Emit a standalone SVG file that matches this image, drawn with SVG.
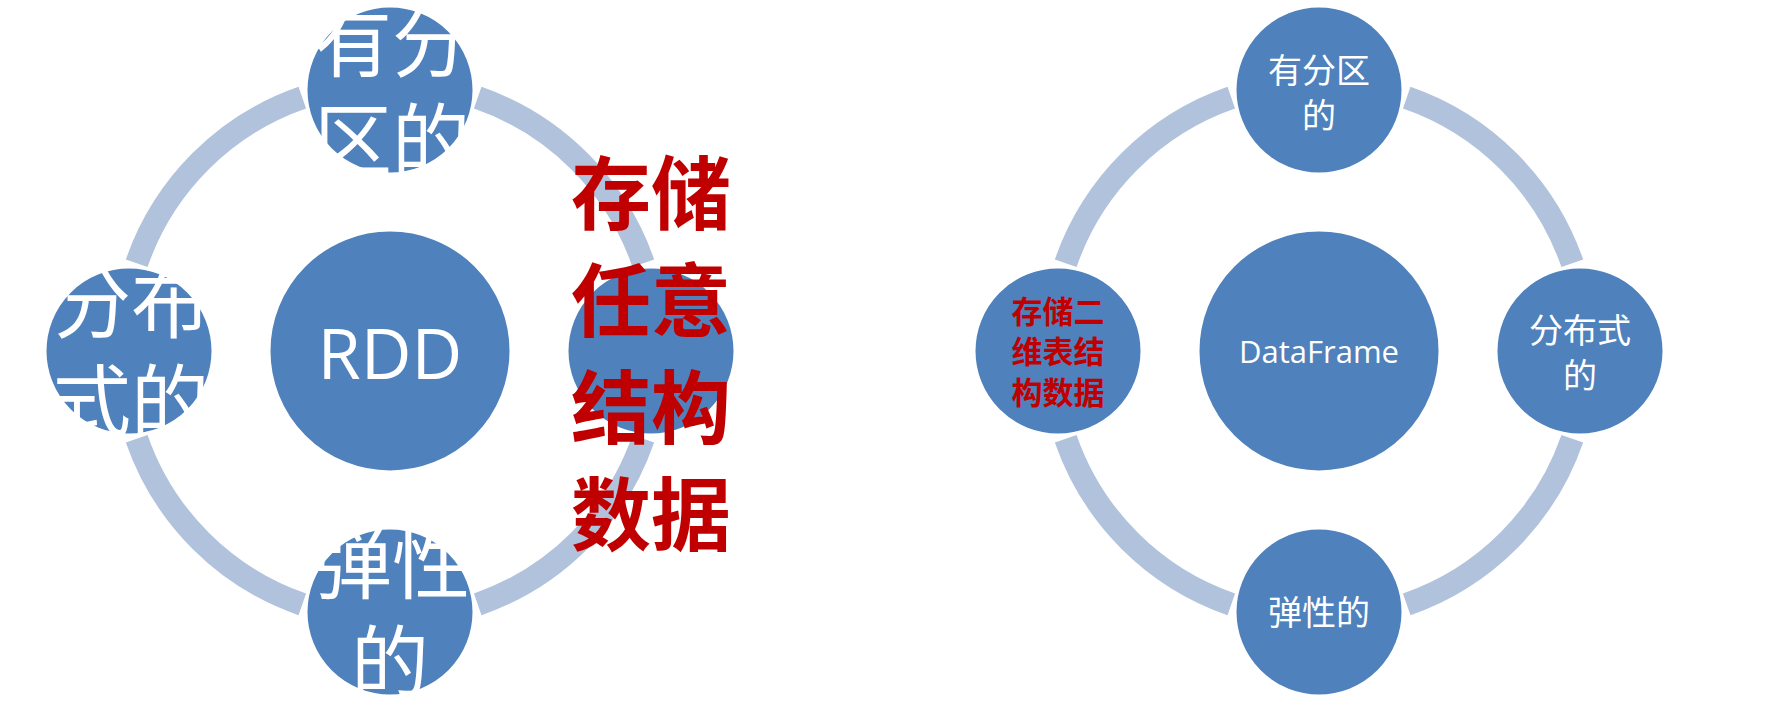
<svg xmlns="http://www.w3.org/2000/svg" width="1774" height="708" viewBox="0 0 1774 708">
<style>
.arc{fill:none;stroke:#B1C2DD;stroke-width:23;stroke-linecap:butt}
.node{fill:#4F81BD;stroke:#FFFFFF;stroke-width:3}
.big{font-family:"Noto Sans CJK SC",sans-serif;font-size:78px;fill:#FFFFFF}
.red{font-family:"Noto Sans CJK SC",sans-serif;font-weight:bold;font-size:80px;fill:#C00000;text-anchor:middle}
.sm{font-family:"Noto Sans CJK SC",sans-serif;font-size:34px;fill:#FFFFFF;text-anchor:middle}
.smred{font-family:"Noto Sans CJK SC",sans-serif;font-weight:bold;font-size:31px;fill:#C00000;text-anchor:middle}
.lat{font-family:"Open Sans",sans-serif;fill:#FFFFFF;text-anchor:middle}
</style>
<rect width="1774" height="708" fill="#FFFFFF"/>
<g id="connectors">
<path class="arc" d="M477.7,97.7 A268,268 0 0 1 643.3,263.3"/>
<path class="arc" d="M643.3,438.7 A268,268 0 0 1 477.7,604.3"/>
<path class="arc" d="M302.3,604.3 A268,268 0 0 1 136.7,438.7"/>
<path class="arc" d="M136.7,263.3 A268,268 0 0 1 302.3,97.7"/>
<path class="arc" d="M1406.7,97.7 A268,268 0 0 1 1572.3,263.3"/>
<path class="arc" d="M1572.3,438.7 A268,268 0 0 1 1406.7,604.3"/>
<path class="arc" d="M1231.3,604.3 A268,268 0 0 1 1065.7,438.7"/>
<path class="arc" d="M1065.7,263.3 A268,268 0 0 1 1231.3,97.7"/>
</g>
<g id="rdd-center">
<circle class="node" cx="390" cy="351" r="121"/>
<text class="lat" x="390" y="379" font-size="70">RDD</text>
</g>
<g id="rdd-top">
<circle class="node" cx="390" cy="90" r="84"/>
<text class="big" x="314 392" y="71">有分</text>
<text class="big" x="314 392" y="169">区的</text>
</g>
<g id="rdd-left">
<circle class="node" cx="129" cy="351" r="84"/>
<text class="big" x="53 131" y="332">分布</text>
<text class="big" x="53 131" y="430">式的</text>
</g>
<g id="rdd-bottom">
<circle class="node" cx="390" cy="612" r="84"/>
<text class="big" x="314 392" y="593">弹性</text>
<text class="big" x="351" y="691">的</text>
</g>
<g id="rdd-right">
<circle class="node" cx="651" cy="351" r="84"/>
<text class="red" x="651" y="223">存储</text>
<text class="red" x="651" y="330">任意</text>
<text class="red" x="651" y="437">结构</text>
<text class="red" x="651" y="544">数据</text>
</g>
<g id="df-center">
<circle class="node" cx="1319" cy="351" r="121"/>
<text class="lat" x="1319" y="363" font-size="31">DataFrame</text>
</g>
<g id="df-top">
<circle class="node" cx="1319" cy="90" r="84"/>
<text class="sm" x="1319" y="83">有分区</text>
<text class="sm" x="1319" y="128">的</text>
</g>
<g id="df-right">
<circle class="node" cx="1580" cy="351" r="84"/>
<text class="sm" x="1580" y="343">分布式</text>
<text class="sm" x="1580" y="388">的</text>
</g>
<g id="df-bottom">
<circle class="node" cx="1319" cy="612" r="84"/>
<text class="sm" x="1319" y="625">弹性的</text>
</g>
<g id="df-left">
<circle class="node" cx="1058" cy="351" r="84"/>
<text class="smred" x="1058" y="323">存储二</text>
<text class="smred" x="1058" y="363">维表结</text>
<text class="smred" x="1058" y="404">构数据</text>
</g>
</svg>
